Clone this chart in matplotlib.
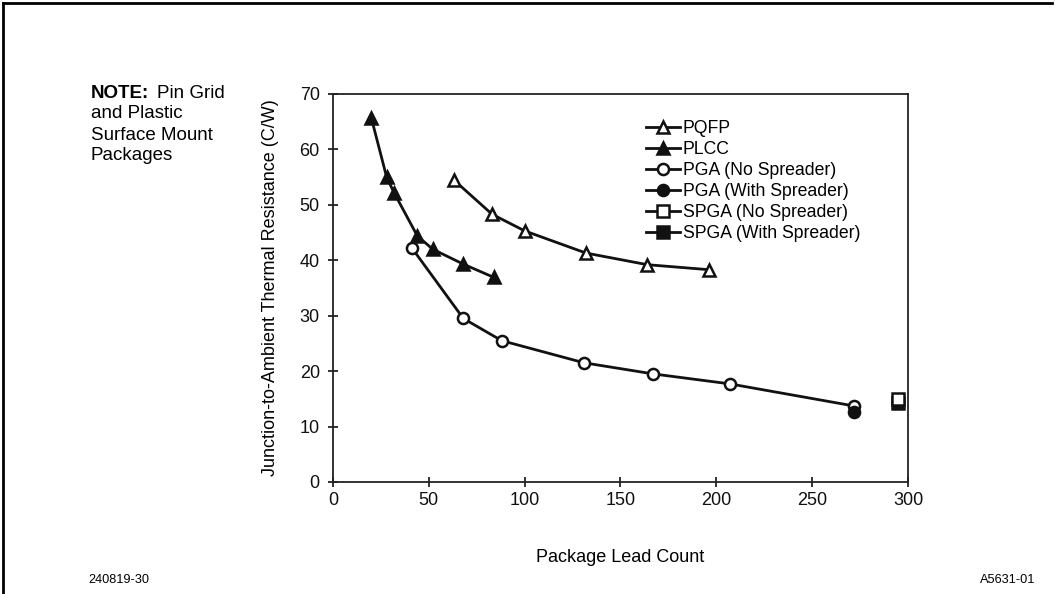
import matplotlib
matplotlib.use("Agg")
import matplotlib.pyplot as plt
from matplotlib.lines import Line2D

plt.rcParams["font.family"] = ["Liberation Sans", "DejaVu Sans"]

# package lead count vs junction-to-ambient thermal resistance (C/W)
pqfp_leads = [63, 83, 100, 132, 164, 196]
pqfp_theta = [54.5, 48.3, 45.3, 41.3, 39.2, 38.3]

plcc_leads = [20, 28, 32, 44, 52, 68, 84]
plcc_theta = [65.7, 55.0, 52.1, 44.4, 42.0, 39.3, 36.9]

pga_ns_leads = [41, 68, 88, 131, 167, 207, 272]
pga_ns_theta = [42.3, 29.5, 25.5, 21.5, 19.5, 17.7, 13.7]

pga_ws_leads = [272]
pga_ws_theta = [12.6]

spga_ns_leads = [295]
spga_ns_theta = [15.0]

spga_ws_leads = [295]
spga_ws_theta = [14.3]

x_ticks = [0, 50, 100, 150, 200, 250, 300]
y_ticks = [0, 10, 20, 30, 40, 50, 60, 70]

legend_names = ["PQFP", "PLCC", "PGA (No Spreader)", "PGA (With Spreader)",
                "SPGA (No Spreader)", "SPGA (With Spreader)"]

fig = plt.figure(figsize=(10.55, 5.94), dpi=100)
ax = fig.add_axes([0.3156, 0.1886, 0.5451, 0.6532])

ink = "#111111"
lw = 2.0
ms = 8
mew = 1.8
pt = dict(color=ink, ms=ms, mew=mew, mec=ink)

ax.plot(pqfp_leads, pqfp_theta, marker="^", mfc="white", lw=lw, **pt)
ax.plot(plcc_leads, plcc_theta, marker="^", mfc=ink, lw=lw, **pt)
ax.plot(pga_ns_leads, pga_ns_theta, marker="o", mfc="white", lw=lw, **pt)
ax.plot(pga_ws_leads, pga_ws_theta, marker="o", mfc=ink, ls="none", **pt)
ax.plot(spga_ws_leads, spga_ws_theta, marker="s", mfc=ink, ls="none", **pt)
ax.plot(spga_ns_leads, spga_ns_theta, marker="s", mfc="white", ls="none", **pt)

ax.set_xlim(0, 300)
ax.set_ylim(0, 70)
ax.set_xticks(x_ticks)
ax.set_yticks(y_ticks)
ax.tick_params(direction="inout", length=7, width=1.2, labelsize=13, colors=ink)
ax.tick_params(axis="y", pad=6)
for s in ax.spines.values():
    s.set_linewidth(1.3)
    s.set_color("#222222")

ax.set_xlabel("Package Lead Count", fontsize=13, labelpad=29)
ax.set_ylabel("Junction-to-Ambient Thermal Resistance (C/W)", fontsize=13, labelpad=15)

# legend, line drawn through each marker
marks = ["^", "^", "o", "o", "s", "s"]
fills = ["white", ink, "white", ink, "white", ink]
handles = [Line2D([], [], color=ink, lw=lw, marker=m, mfc=f, mec=ink, ms=ms, mew=mew)
           for m, f in zip(marks, fills)]
ax.legend(handles, legend_names, loc="upper left", bbox_to_anchor=(0.544, 0.932),
          frameon=False, fontsize=12.7, handlelength=1.95, handletextpad=0.15,
          labelspacing=0.22, borderaxespad=0, borderpad=0)

# side note
note_lines = ["and Plastic", "Surface Mount", "Packages"]
fig.text(91 / 1055, 1 - 93 / 594, "NOTE:", fontsize=13.5, fontweight="bold", va="center", ha="left")
fig.text(157 / 1055, 1 - 93 / 594, "Pin Grid", fontsize=13.5, va="center", ha="left")
for i, line in enumerate(note_lines):
    fig.text(91 / 1055, 1 - (114 + 21 * i) / 594, line, fontsize=13.5, va="center", ha="left")

fig.text(88 / 1055, 1 - 580 / 594, "240819-30", fontsize=9.2, va="center", ha="left")
fig.text(1035 / 1055, 1 - 580 / 594, "A5631-01", fontsize=9.2, va="center", ha="right")

# page border (top and left only)
fig.add_artist(Line2D([3 / 1055, 1052 / 1055], [1 - 3 / 594, 1 - 3 / 594],
                      transform=fig.transFigure, color="black", lw=2))
fig.add_artist(Line2D([3 / 1055, 3 / 1055], [0, 1 - 3 / 594],
                      transform=fig.transFigure, color="black", lw=2))

fig.savefig("out.png", dpi=100)
